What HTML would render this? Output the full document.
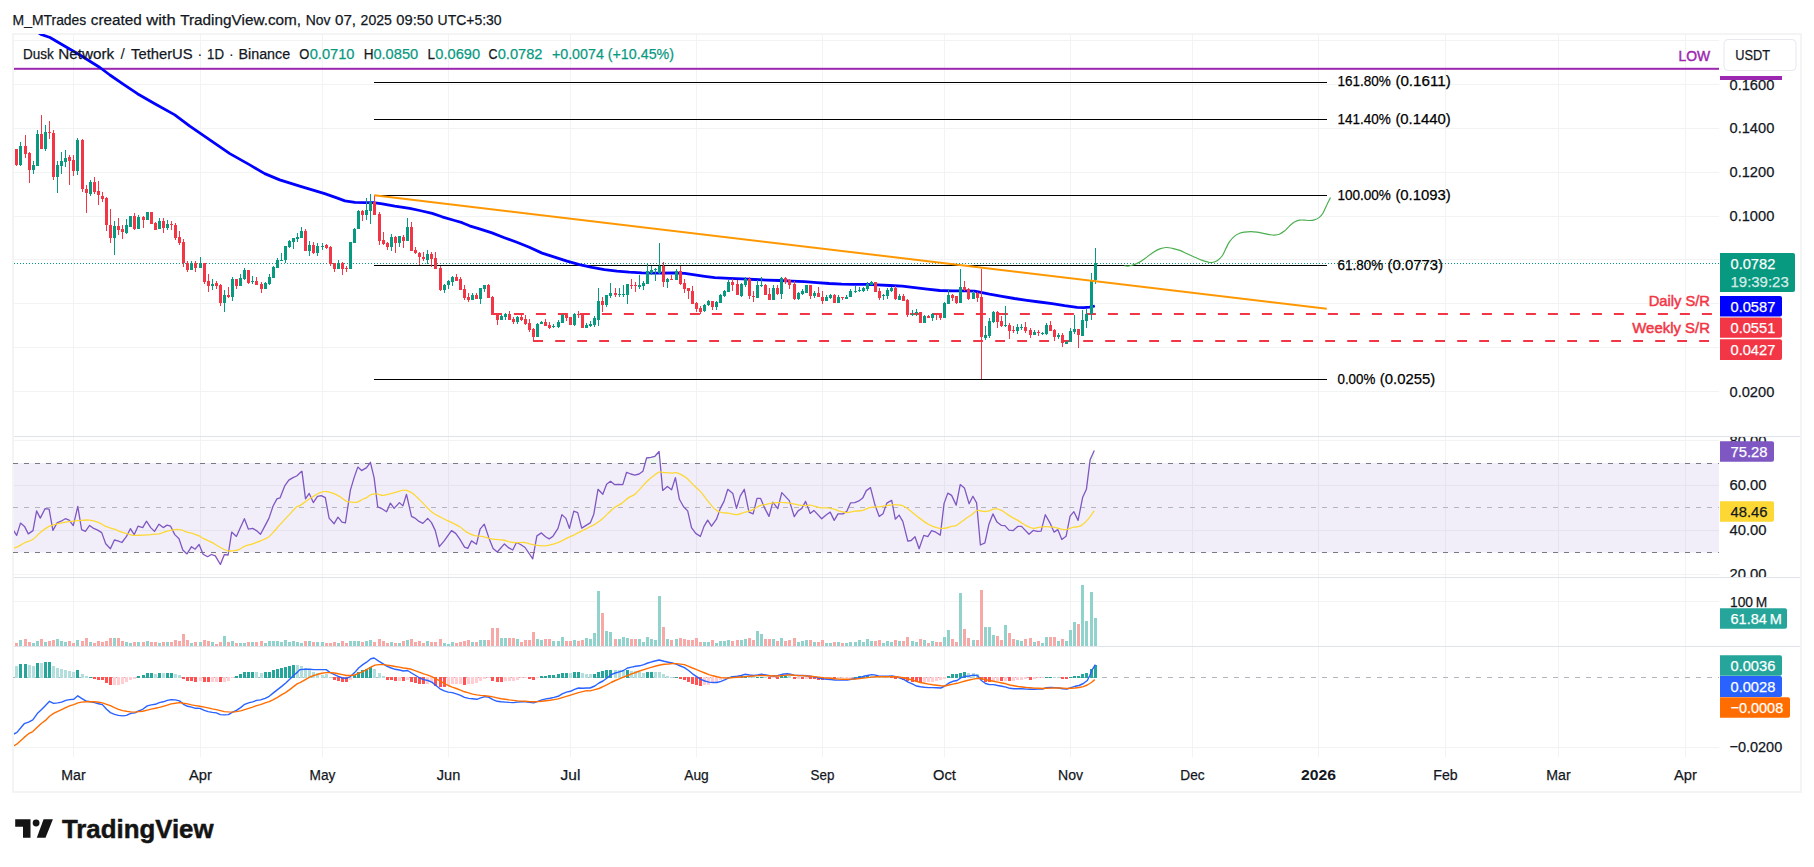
<!DOCTYPE html>
<html lang="en"><head><meta charset="utf-8"><title>DUSKUSDT chart</title>
<style>html,body{margin:0;padding:0;background:#fff}svg{display:block}</style></head>
<body>
<svg width="1814" height="867" viewBox="0 0 1814 867" font-family='"Liberation Sans", Arial, sans-serif' font-size="15.5">
<defs>
<clipPath id="cm"><rect x="14" y="34" width="1705" height="402"/></clipPath>
<clipPath id="cr"><rect x="14" y="437" width="1705" height="140"/></clipPath>
<clipPath id="cv"><rect x="14" y="578" width="1705" height="68"/></clipPath>
<clipPath id="cd"><rect x="14" y="647" width="1705" height="110"/></clipPath>
<clipPath id="ax1"><rect x="1719" y="437" width="82" height="140"/></clipPath>
</defs>
<rect width="1814" height="867" fill="#fff"/>
<path d="M73.5 34V757 M200.5 34V757 M322.5 34V757 M448.5 34V757 M570.5 34V757 M696.5 34V757 M822.5 34V757 M944.5 34V757 M1070.5 34V757 M1192.5 34V757 M1318.5 34V757 M1445.5 34V757 M1558.5 34V757 M1685.5 34V757 M14 40.5H1719 M14 84.5H1719 M14 128.5H1719 M14 172.5H1719 M14 216.5H1719 M14 259.5H1719 M14 303.5H1719 M14 347.5H1719 M14 391.5H1719 M14 440.5H1719 M14 485.5H1719 M14 530.5H1719 M14 574.5H1719 M14 601.5H1719 M14 747.5H1719" stroke="#2A2E39" stroke-opacity="0.058" stroke-width="1" fill="none" shape-rendering="crispEdges"/>
<path d="M13 436.5H1801M13 577.5H1801M13 646.5H1801" stroke="#E0E3EB" stroke-width="1" shape-rendering="crispEdges"/>
<rect x="13" y="34" width="1788" height="758" fill="none" stroke="#F4F4F4" stroke-width="2" shape-rendering="crispEdges"/>
<rect x="14" y="463" width="1705" height="89.5" fill="#7E57C2" fill-opacity="0.1"/>
<path d="M12.7 463.5H1719M12.7 552.5H1719" stroke="#787B86" stroke-width="1" stroke-dasharray="5 6" shape-rendering="crispEdges"/>
<path d="M12.7 507.5H1719" stroke="#B2B5BE" stroke-width="1" stroke-dasharray="5 6" shape-rendering="crispEdges"/>
<path d="M12.7 677.5H1719" stroke="#B2B5BE" stroke-width="1" stroke-dasharray="5 6" shape-rendering="crispEdges"/>
<g clip-path="url(#cm)">
<rect x="14" y="67.8" width="1705" height="2" fill="#9C27B0"/>
<path d="M374 82.5H1327 M374 119.5H1327 M374 195.5H1327 M374 265.5H1327 M374 379.5H1327" stroke="#000" stroke-width="1" shape-rendering="crispEdges"/>
<path d="M14 263.5H1719" stroke="#089981" stroke-width="1" stroke-dasharray="1 2" shape-rendering="crispEdges"/>
<path d="M491.9 313.9H1712" stroke="#F23645" stroke-width="2" stroke-dasharray="10 12"/>
<path d="M533.2 340.9H1709.5" stroke="#F23645" stroke-width="2" stroke-dasharray="9.8 12.2"/>
<polyline points="36.0,31.0 41.2,34.5 50.0,37.5 64.9,46.2 79.9,55.0 99.9,67.5 109.9,75.0 122.4,83.7 137.4,93.7 154.8,103.7 174.8,114.9 189.8,126.2 209.8,139.9 229.8,153.6 249.8,164.9 264.7,173.6 279.7,179.9 299.7,186.1 324.7,193.6 337.5,198.1 344.9,200.9 354.9,202.4 366.1,202.7 373.6,202.7 382.3,203.9 394.8,206.2 409.7,208.4 419.7,210.5 432.2,213.4 442.1,216.8 454.6,220.5 462.1,222.7 469.5,225.8 479.5,228.8 492.0,232.9 504.4,237.7 516.9,242.3 529.3,247.3 542.1,253.1 554.6,257.2 567.0,261.2 579.5,264.7 592.0,267.4 604.4,269.7 616.9,271.2 629.3,272.2 641.8,272.9 654.9,273.1 674.8,273.0 684.8,273.4 694.8,274.8 704.7,276.3 714.7,277.6 729.7,278.3 742.1,278.8 754.6,279.5 767.0,280.1 779.5,280.5 792.0,281.1 804.4,281.7 816.9,282.6 829.3,283.5 841.8,284.1 852.5,284.3 864.9,284.4 877.4,284.9 889.8,285.5 902.3,286.1 914.7,287.7 927.2,289.2 939.7,290.5 952.1,290.9 964.6,290.9 974.5,291.1 980.8,292.4 989.5,294.2 1002.0,296.3 1014.4,298.5 1026.9,300.3 1039.5,302.0 1052.1,303.7 1064.6,305.7 1077.0,307.4 1083.8,307.7 1089.6,307.1 1094.8,306.0" fill="none" stroke="#0000FF" stroke-width="2.8" stroke-linejoin="round"/>
<path d="M12 149h1V155h-1zM20 142h1V166h-1zM33 161h1V174h-1zM37 130h1V166h-1zM45 125h1V151h-1zM57 161h1V193h-1zM61 152h1V174h-1zM65 150h1V167h-1zM77 138h1V175h-1zM90 180h1V196h-1zM114 221h1V255h-1zM126 219h1V234h-1zM130 216h1V227h-1zM138 215h1V229h-1zM147 212h1V220h-1zM159 218h1V229h-1zM167 220h1V230h-1zM191 261h1V270h-1zM200 257h1V268h-1zM212 279h1V290h-1zM224 290h1V312h-1zM232 277h1V301h-1zM240 274h1V286h-1zM244 268h1V280h-1zM252 276h1V284h-1zM265 282h1V289h-1zM269 274h1V285h-1zM273 266h1V278h-1zM277 258h1V268h-1zM281 253h1V261h-1zM285 246h1V263h-1zM289 240h1V248h-1zM293 238h1V249h-1zM297 233h1V242h-1zM301 227h1V238h-1zM309 241h1V256h-1zM317 243h1V256h-1zM322 243h1V250h-1zM338 260h1V269h-1zM350 242h1V269h-1zM354 228h1V243h-1zM358 210h1V229h-1zM366 198h1V220h-1zM370 194h1V224h-1zM391 234h1V251h-1zM399 236h1V247h-1zM407 218h1V241h-1zM427 250h1V264h-1zM444 284h1V293h-1zM448 280h1V289h-1zM452 276h1V286h-1zM472 293h1V300h-1zM480 288h1V304h-1zM484 285h1V292h-1zM501 315h1V320h-1zM505 313h1V320h-1zM517 316h1V324h-1zM537 323h1V337h-1zM541 321h1V324h-1zM553 324h1V328h-1zM558 320h1V328h-1zM562 314h1V323h-1zM574 313h1V326h-1zM586 323h1V328h-1zM590 321h1V327h-1zM594 316h1V327h-1zM598 288h1V326h-1zM606 295h1V307h-1zM610 283h1V298h-1zM619 288h1V297h-1zM623 285h1V297h-1zM627 284h1V304h-1zM639 275h1V289h-1zM643 281h1V290h-1zM647 264h1V284h-1zM651 266h1V275h-1zM655 268h1V281h-1zM659 243h1V274h-1zM667 278h1V288h-1zM676 269h1V280h-1zM704 304h1V312h-1zM708 300h1V306h-1zM716 301h1V310h-1zM720 294h1V303h-1zM724 290h1V297h-1zM728 280h1V292h-1zM741 283h1V297h-1zM745 277h1V287h-1zM757 280h1V298h-1zM761 277h1V287h-1zM773 285h1V300h-1zM781 277h1V299h-1zM798 292h1V300h-1zM802 289h1V295h-1zM806 285h1V293h-1zM814 291h1V298h-1zM826 295h1V301h-1zM830 294h1V299h-1zM838 295h1V303h-1zM846 295h1V299h-1zM850 289h1V297h-1zM855 286h1V293h-1zM859 287h1V292h-1zM863 287h1V292h-1zM867 282h1V291h-1zM871 281h1V285h-1zM883 294h1V300h-1zM887 288h1V299h-1zM891 287h1V292h-1zM899 294h1V300h-1zM912 310h1V316h-1zM916 309h1V316h-1zM924 315h1V323h-1zM932 313h1V321h-1zM944 302h1V318h-1zM948 289h1V304h-1zM960 269h1V303h-1zM973 291h1V299h-1zM985 326h1V340h-1zM989 318h1V338h-1zM993 311h1V323h-1zM1005 306h1V327h-1zM1017 324h1V334h-1zM1021 324h1V330h-1zM1034 330h1V335h-1zM1042 332h1V335h-1zM1046 323h1V335h-1zM1058 333h1V339h-1zM1066 341h1V344h-1zM1070 328h1V342h-1zM1074 315h1V334h-1zM1082 310h1V336h-1zM1086 309h1V328h-1zM1091 273h1V320h-1zM1095 248h1V284h-1zM11 149h3V155h-3zM19 146h3V165h-3zM32 165h3V170h-3zM36 134h3V166h-3zM44 132h3V149h-3zM56 165h3V177h-3zM60 161h3V166h-3zM64 158h3V162h-3zM76 140h3V171h-3zM89 182h3V194h-3zM113 226h3V238h-3zM125 225h3V233h-3zM129 216h3V227h-3zM137 217h3V229h-3zM146 212h3V220h-3zM158 221h3V229h-3zM166 224h3V228h-3zM190 263h3V270h-3zM199 263h3V268h-3zM211 284h3V286h-3zM223 295h3V303h-3zM231 279h3V297h-3zM239 278h3V286h-3zM243 270h3V279h-3zM251 281h3V282h-3zM264 283h3V289h-3zM268 277h3V284h-3zM272 267h3V278h-3zM276 260h3V268h-3zM280 260h3V261h-3zM284 246h3V260h-3zM288 241h3V247h-3zM292 238h3V242h-3zM296 237h3V239h-3zM300 231h3V238h-3zM308 245h3V251h-3zM316 246h3V253h-3zM321 246h3V247h-3zM337 263h3V269h-3zM349 242h3V269h-3zM353 229h3V243h-3zM357 211h3V229h-3zM365 210h3V215h-3zM369 202h3V211h-3zM390 237h3V247h-3zM398 236h3V243h-3zM406 227h3V241h-3zM426 254h3V260h-3zM443 285h3V290h-3zM447 281h3V285h-3zM451 277h3V282h-3zM471 295h3V300h-3zM479 288h3V299h-3zM483 285h3V289h-3zM500 316h3V320h-3zM504 314h3V317h-3zM516 317h3V322h-3zM536 324h3V337h-3zM540 322h3V324h-3zM552 326h3V327h-3zM557 322h3V327h-3zM561 315h3V323h-3zM573 314h3V325h-3zM585 325h3V328h-3zM589 324h3V326h-3zM593 318h3V325h-3zM597 301h3V320h-3zM605 295h3V305h-3zM609 293h3V296h-3zM618 294h3V295h-3zM622 294h3V295h-3zM626 284h3V295h-3zM638 285h3V287h-3zM642 283h3V286h-3zM646 271h3V284h-3zM650 270h3V273h-3zM654 269h3V270h-3zM658 266h3V273h-3zM666 279h3V282h-3zM675 271h3V280h-3zM703 305h3V311h-3zM707 301h3V305h-3zM715 302h3V307h-3zM719 295h3V303h-3zM723 291h3V296h-3zM727 282h3V292h-3zM740 284h3V296h-3zM744 279h3V285h-3zM756 285h3V298h-3zM760 285h3V286h-3zM772 288h3V300h-3zM780 278h3V294h-3zM797 293h3V299h-3zM801 291h3V294h-3zM805 285h3V293h-3zM813 293h3V296h-3zM825 297h3V301h-3zM829 295h3V298h-3zM837 297h3V303h-3zM845 297h3V299h-3zM849 291h3V297h-3zM854 291h3V292h-3zM858 290h3V291h-3zM862 288h3V291h-3zM866 284h3V289h-3zM870 282h3V285h-3zM882 295h3V296h-3zM886 290h3V296h-3zM890 288h3V291h-3zM898 296h3V300h-3zM911 314h3V315h-3zM915 312h3V313h-3zM923 316h3V323h-3zM931 314h3V318h-3zM943 303h3V318h-3zM947 295h3V304h-3zM959 287h3V303h-3zM972 293h3V299h-3zM984 335h3V338h-3zM988 321h3V336h-3zM992 312h3V322h-3zM1004 325h3V326h-3zM1016 327h3V331h-3zM1020 327h3V328h-3zM1033 332h3V335h-3zM1041 333h3V334h-3zM1045 325h3V334h-3zM1057 335h3V337h-3zM1065 342h3V344h-3zM1069 331h3V342h-3zM1073 329h3V332h-3zM1081 320h3V336h-3zM1085 314h3V321h-3zM1090 281h3V314h-3zM1094 263h3V280h-3z" fill="#089981" shape-rendering="crispEdges"/>
<path d="M16 149h1V166h-1zM25 135h1V158h-1zM29 152h1V183h-1zM41 115h1V149h-1zM49 121h1V139h-1zM53 130h1V180h-1zM69 155h1V185h-1zM73 155h1V176h-1zM82 139h1V192h-1zM86 185h1V213h-1zM94 177h1V194h-1zM98 181h1V205h-1zM102 192h1V202h-1zM106 197h1V231h-1zM110 209h1V243h-1zM118 218h1V235h-1zM122 225h1V239h-1zM134 213h1V230h-1zM143 216h1V228h-1zM151 212h1V224h-1zM155 222h1V230h-1zM163 218h1V233h-1zM171 221h1V230h-1zM175 223h1V240h-1zM179 231h1V245h-1zM183 239h1V267h-1zM187 261h1V272h-1zM195 261h1V272h-1zM204 263h1V284h-1zM208 274h1V292h-1zM216 281h1V289h-1zM220 284h1V306h-1zM228 287h1V298h-1zM236 279h1V289h-1zM248 270h1V284h-1zM256 277h1V285h-1zM261 282h1V293h-1zM305 229h1V251h-1zM313 242h1V254h-1zM326 244h1V249h-1zM330 246h1V266h-1zM334 263h1V272h-1zM342 262h1V275h-1zM346 266h1V272h-1zM362 210h1V221h-1zM374 195h1V215h-1zM379 212h1V245h-1zM383 232h1V245h-1zM387 242h1V250h-1zM395 236h1V253h-1zM403 235h1V248h-1zM411 222h1V251h-1zM415 247h1V254h-1zM419 252h1V265h-1zM423 252h1V261h-1zM431 252h1V267h-1zM435 252h1V269h-1zM440 266h1V291h-1zM456 274h1V281h-1zM460 277h1V290h-1zM464 285h1V300h-1zM468 293h1V302h-1zM476 293h1V299h-1zM488 284h1V298h-1zM492 296h1V315h-1zM497 313h1V325h-1zM509 311h1V320h-1zM513 317h1V324h-1zM521 315h1V321h-1zM525 315h1V325h-1zM529 319h1V332h-1zM533 328h1V342h-1zM545 319h1V326h-1zM549 322h1V329h-1zM566 313h1V321h-1zM570 317h1V325h-1zM578 311h1V318h-1zM582 313h1V328h-1zM602 297h1V312h-1zM615 288h1V297h-1zM631 279h1V289h-1zM635 282h1V292h-1zM663 262h1V287h-1zM671 275h1V280h-1zM680 266h1V285h-1zM684 279h1V293h-1zM688 288h1V299h-1zM692 286h1V304h-1zM696 302h1V312h-1zM700 306h1V314h-1zM712 301h1V310h-1zM732 279h1V291h-1zM737 280h1V295h-1zM749 277h1V299h-1zM753 291h1V302h-1zM765 284h1V295h-1zM769 288h1V300h-1zM777 285h1V295h-1zM785 277h1V284h-1zM789 279h1V289h-1zM794 281h1V300h-1zM810 285h1V299h-1zM818 287h1V297h-1zM822 291h1V304h-1zM834 294h1V303h-1zM842 297h1V300h-1zM875 282h1V292h-1zM879 288h1V300h-1zM895 286h1V300h-1zM903 294h1V301h-1zM907 299h1V317h-1zM920 312h1V323h-1zM928 315h1V318h-1zM936 314h1V320h-1zM940 313h1V320h-1zM952 294h1V301h-1zM956 296h1V304h-1zM964 281h1V291h-1zM968 288h1V300h-1zM977 292h1V302h-1zM981 269h1V379h-1zM997 311h1V328h-1zM1001 316h1V327h-1zM1009 323h1V339h-1zM1013 326h1V333h-1zM1025 322h1V333h-1zM1030 328h1V338h-1zM1038 330h1V336h-1zM1050 321h1V331h-1zM1054 329h1V341h-1zM1062 333h1V347h-1zM1078 329h1V348h-1zM15 149h3V165h-3zM24 146h3V154h-3zM28 153h3V170h-3zM40 134h3V149h-3zM48 132h3V133h-3zM52 133h3V177h-3zM68 157h3V161h-3zM72 160h3V171h-3zM81 140h3V189h-3zM85 189h3V193h-3zM93 182h3V192h-3zM97 191h3V195h-3zM101 196h3V199h-3zM105 198h3V225h-3zM109 225h3V238h-3zM117 226h3V230h-3zM121 229h3V232h-3zM133 216h3V229h-3zM142 217h3V220h-3zM150 212h3V224h-3zM154 223h3V230h-3zM162 221h3V228h-3zM170 224h3V225h-3zM174 225h3V238h-3zM178 237h3V243h-3zM182 242h3V263h-3zM186 263h3V270h-3zM194 263h3V268h-3zM203 263h3V282h-3zM207 281h3V286h-3zM215 283h3V286h-3zM219 285h3V303h-3zM227 295h3V297h-3zM235 279h3V286h-3zM247 270h3V283h-3zM255 281h3V285h-3zM260 284h3V289h-3zM304 231h3V251h-3zM312 245h3V253h-3zM325 245h3V248h-3zM329 247h3V264h-3zM333 263h3V269h-3zM341 263h3V269h-3zM345 268h3V269h-3zM361 211h3V215h-3zM373 202h3V215h-3zM378 214h3V241h-3zM382 240h3V244h-3zM386 243h3V247h-3zM394 237h3V243h-3zM402 237h3V241h-3zM410 227h3V251h-3zM414 250h3V253h-3zM418 253h3V257h-3zM422 257h3V259h-3zM430 254h3V259h-3zM434 258h3V269h-3zM439 268h3V290h-3zM455 277h3V281h-3zM459 279h3V290h-3zM463 289h3V298h-3zM467 297h3V300h-3zM475 295h3V299h-3zM487 285h3V298h-3zM491 297h3V315h-3zM496 314h3V320h-3zM508 314h3V320h-3zM512 319h3V322h-3zM520 317h3V320h-3zM524 319h3V324h-3zM528 323h3V330h-3zM532 329h3V337h-3zM544 322h3V326h-3zM548 325h3V328h-3zM565 315h3V318h-3zM569 317h3V325h-3zM577 314h3V315h-3zM581 314h3V328h-3zM601 301h3V305h-3zM614 293h3V295h-3zM630 285h3V286h-3zM634 285h3V286h-3zM662 266h3V282h-3zM670 279h3V280h-3zM679 271h3V284h-3zM683 283h3V289h-3zM687 288h3V291h-3zM691 291h3V304h-3zM695 303h3V309h-3zM699 308h3V312h-3zM711 301h3V307h-3zM731 282h3V285h-3zM736 284h3V295h-3zM748 279h3V296h-3zM752 296h3V297h-3zM764 285h3V295h-3zM768 294h3V300h-3zM776 288h3V294h-3zM784 278h3V282h-3zM788 280h3V285h-3zM793 284h3V299h-3zM809 285h3V296h-3zM817 293h3V297h-3zM821 297h3V301h-3zM833 295h3V303h-3zM841 297h3V298h-3zM874 282h3V292h-3zM878 291h3V298h-3zM894 288h3V299h-3zM902 296h3V301h-3zM906 300h3V315h-3zM919 312h3V323h-3zM927 316h3V318h-3zM935 314h3V315h-3zM939 314h3V318h-3zM951 295h3V298h-3zM955 296h3V303h-3zM963 287h3V290h-3zM967 289h3V299h-3zM976 293h3V298h-3zM980 297h3V337h-3zM996 312h3V322h-3zM1000 321h3V326h-3zM1008 325h3V331h-3zM1012 330h3V331h-3zM1024 327h3V331h-3zM1029 330h3V335h-3zM1037 332h3V333h-3zM1049 325h3V331h-3zM1053 330h3V337h-3zM1061 335h3V343h-3zM1077 329h3V335h-3z" fill="#F23645" shape-rendering="crispEdges"/>
<path d="M374.2 195.3L1326.8 308.7" stroke="#FF9800" stroke-width="2" fill="none"/>
<path d="M1124.3 265.7C1125.0 265.8 1127.1 266.2 1128.7 266.0C1130.3 265.8 1132.0 265.3 1133.7 264.7C1135.4 264.1 1136.8 263.6 1138.7 262.6C1140.6 261.6 1142.6 260.1 1144.9 258.5C1147.2 256.9 1149.9 254.5 1152.4 252.9C1154.9 251.3 1157.5 249.8 1159.8 248.9C1162.1 248.0 1164.0 247.6 1166.1 247.5C1168.2 247.4 1170.0 247.8 1172.3 248.3C1174.6 248.8 1177.3 249.5 1179.8 250.4C1182.3 251.3 1184.7 252.7 1187.2 253.8C1189.7 254.9 1192.2 256.1 1194.7 257.2C1197.2 258.3 1199.9 259.6 1202.2 260.4C1204.5 261.2 1206.7 261.8 1208.4 262.2C1210.1 262.6 1210.8 262.8 1212.2 262.5C1213.7 262.2 1215.4 261.8 1217.1 260.7C1218.8 259.6 1220.6 258.0 1222.1 256.0C1223.6 254.0 1224.7 250.9 1225.9 248.5C1227.2 246.1 1228.1 243.8 1229.6 241.7C1231.0 239.6 1232.9 237.5 1234.6 236.1C1236.3 234.7 1237.9 234.0 1239.6 233.3C1241.2 232.6 1242.6 232.4 1244.5 232.1C1246.4 231.8 1248.7 231.6 1250.8 231.6C1252.9 231.6 1254.9 231.8 1257.0 232.1C1259.1 232.4 1261.1 232.9 1263.2 233.3C1265.3 233.7 1267.6 234.3 1269.5 234.6C1271.4 234.9 1272.8 235.2 1274.4 235.1C1276.1 235.0 1277.7 234.9 1279.4 234.2C1281.1 233.5 1282.7 232.4 1284.4 231.1C1286.1 229.8 1287.7 227.6 1289.4 226.1C1291.1 224.6 1292.7 223.1 1294.4 222.1C1296.1 221.1 1297.8 220.5 1299.4 220.2C1301.1 219.9 1302.7 220.0 1304.3 220.1C1305.9 220.2 1307.6 220.5 1309.3 220.5C1311.0 220.5 1312.6 220.4 1314.3 219.9C1316.0 219.4 1317.8 218.6 1319.3 217.4C1320.8 216.2 1321.8 215.1 1323.0 213.0C1324.2 210.9 1325.5 207.5 1326.8 204.9C1328.0 202.3 1329.9 198.7 1330.5 197.4" fill="none" stroke="#4CAF50" stroke-width="1.2"/>
</g>
<text x="1337.5" y="86.1" fill="#000" stroke="#000" stroke-width="0.25" textLength="53.4" lengthAdjust="spacingAndGlyphs">161.80%</text><text x="1395.39" y="86.1" fill="#000" stroke="#000" stroke-width="0.25" textLength="55.4" lengthAdjust="spacingAndGlyphs">(0.1611)</text>
<text x="1337.5" y="124.0" fill="#000" stroke="#000" stroke-width="0.25" textLength="53.4" lengthAdjust="spacingAndGlyphs">141.40%</text><text x="1395.39" y="124.0" fill="#000" stroke="#000" stroke-width="0.25" textLength="55.4" lengthAdjust="spacingAndGlyphs">(0.1440)</text>
<text x="1337.5" y="200.0" fill="#000" stroke="#000" stroke-width="0.25" textLength="53.4" lengthAdjust="spacingAndGlyphs">100.00%</text><text x="1395.39" y="200.0" fill="#000" stroke="#000" stroke-width="0.25" textLength="55.4" lengthAdjust="spacingAndGlyphs">(0.1093)</text>
<text x="1337.5" y="270.0" fill="#000" stroke="#000" stroke-width="0.25" textLength="45.6" lengthAdjust="spacingAndGlyphs">61.80%</text><text x="1387.59" y="270.0" fill="#000" stroke="#000" stroke-width="0.25" textLength="55.4" lengthAdjust="spacingAndGlyphs">(0.0773)</text>
<text x="1337.5" y="384.0" fill="#000" stroke="#000" stroke-width="0.25" textLength="37.8" lengthAdjust="spacingAndGlyphs">0.00%</text><text x="1379.79" y="384.0" fill="#000" stroke="#000" stroke-width="0.25" textLength="55.4" lengthAdjust="spacingAndGlyphs">(0.0255)</text>
<text x="1710" y="305.7" fill="#F23645" text-anchor="end" stroke="#F23645" stroke-width="0.5" textLength="61.3" lengthAdjust="spacingAndGlyphs">Daily S/R</text>
<text x="1710" y="332.8" fill="#F23645" text-anchor="end" stroke="#F23645" stroke-width="0.5" textLength="77.7" lengthAdjust="spacingAndGlyphs">Weekly S/R</text>
<text x="1710.1" y="60.5" fill="#9C27B0" text-anchor="end" stroke="#9C27B0" stroke-width="0.5" textLength="31.6" lengthAdjust="spacingAndGlyphs">LOW</text>
<g clip-path="url(#cr)">
<clipPath id="cob"><rect x="14" y="437" width="1705" height="26"/></clipPath><clipPath id="cos"><rect x="14" y="553" width="1705" height="24"/></clipPath>
<polygon clip-path="url(#cob)" points="13.3,530.1 16.7,535.4 20.5,523.1 24.5,526.4 28.3,533.9 33.0,530.6 36.6,510.9 40.3,518.1 45.0,508.7 49.1,509.2 52.9,530.4 57.1,522.9 61.1,521.2 65.3,518.7 69.1,520.1 73.3,525.6 77.8,506.4 81.6,529.6 85.4,531.4 89.6,525.4 93.7,528.4 97.7,530.1 101.7,532.6 105.7,543.7 110.4,548.7 114.4,540.0 117.9,540.9 121.9,542.5 126.5,536.4 130.4,528.7 134.2,534.7 138.0,526.2 142.7,527.6 146.5,521.2 150.7,527.6 154.5,531.4 159.0,524.2 163.2,527.6 167.1,525.1 170.6,526.2 174.8,534.6 179.0,538.7 182.8,550.0 187.0,553.9 191.5,546.7 195.1,549.2 199.1,544.5 203.1,554.2 207.6,556.7 211.4,554.5 215.3,555.9 220.4,564.5 224.3,554.7 228.1,555.0 231.7,532.1 236.4,536.4 240.2,528.1 244.4,518.7 248.4,529.2 252.6,528.4 256.4,530.6 260.5,534.2 264.7,526.4 268.9,518.4 273.0,506.3 276.9,498.9 280.0,497.9 284.7,485.9 288.8,480.1 293.0,477.6 296.7,476.0 301.7,471.3 302.0,471.3 305.5,498.9 309.2,493.4 313.3,502.6 317.5,496.3 321.3,495.6 325.3,497.6 329.1,518.1 334.1,523.7 338.0,517.2 342.0,522.2 345.4,522.9 350.4,490.1 354.1,477.6 357.8,467.1 361.6,470.6 366.6,467.6 370.4,462.3 374.1,477.6 377.7,506.8 381.9,508.7 386.6,511.7 390.4,503.1 394.1,508.4 399.4,502.6 402.9,505.9 406.5,494.3 411.5,516.4 414.9,518.1 419.0,521.4 422.9,523.4 427.7,518.4 431.5,522.6 435.2,530.4 439.3,546.7 444.0,541.2 451.5,530.6 455.7,533.4 459.8,539.2 464.5,547.2 467.8,548.4 471.5,540.9 476.5,544.2 480.1,529.2 484.3,524.2 488.9,537.9 493.1,548.4 497.3,552.0 504.4,543.9 508.9,547.9 512.8,550.0 516.4,542.5 520.6,544.5 525.1,547.5 532.7,558.9 536.9,535.9 541.4,532.9 545.5,536.7 549.2,538.9 553.0,536.2 558.0,528.4 561.9,514.6 565.9,518.4 569.4,528.4 573.8,511.2 577.7,512.6 581.7,528.1 590.5,522.6 593.8,514.2 598.0,489.3 602.8,494.3 606.6,484.3 610.5,481.3 614.5,484.6 618.3,484.3 622.8,484.6 626.6,472.3 630.8,474.0 634.9,475.1 639.1,474.0 642.9,471.3 646.6,458.0 650.8,457.3 654.9,456.3 659.1,451.5 662.7,490.4 667.4,486.4 671.6,489.8 675.4,477.6 679.4,499.3 683.6,506.8 687.7,510.9 691.5,527.6 695.7,533.4 700.4,536.4 704.0,526.4 707.7,520.1 711.5,526.2 716.5,519.2 720.3,508.4 724.0,501.4 727.8,489.3 732.8,493.4 736.5,508.4 740.3,495.9 744.3,489.3 749.0,512.2 753.1,513.9 757.0,498.4 760.6,498.4 764.8,508.4 769.0,516.4 772.8,502.1 777.8,508.7 781.8,492.6 789.3,500.6 794.3,516.7 798.1,510.9 801.8,508.4 805.6,501.4 810.2,513.4 813.9,510.4 821.7,518.7 826.4,514.7 830.2,512.1 834.2,520.4 838.0,513.9 843.0,513.9 846.7,511.4 850.5,502.9 854.7,502.6 858.9,500.9 862.7,498.1 866.3,490.6 870.5,487.6 875.0,505.1 879.2,516.4 883.0,513.7 886.8,503.1 891.7,500.4 895.3,519.2 899.1,515.1 902.8,521.4 907.8,541.2 911.1,540.5 915.0,536.7 919.1,548.7 923.8,535.4 927.8,536.7 931.6,530.6 935.8,532.2 940.3,535.1 944.1,503.4 947.8,493.1 951.6,495.4 956.2,505.1 960.2,484.6 964.4,487.9 969.1,503.8 972.9,496.3 976.6,502.9 980.4,545.0 984.9,542.9 989.0,523.9 992.9,513.9 997.0,522.1 1001.5,525.4 1004.9,525.6 1009.0,530.1 1013.2,530.6 1017.7,526.4 1021.5,526.4 1029.0,534.2 1033.2,530.4 1037.3,531.4 1041.1,531.2 1045.3,514.7 1049.8,522.6 1054.0,532.1 1057.8,529.6 1061.8,539.5 1066.1,536.2 1070.1,516.2 1073.9,511.7 1078.1,520.4 1082.6,497.6 1086.4,489.3 1090.1,459.8 1094.3,450.6 1094.3,463 13.3,463" fill="#4CAF50" fill-opacity="0.09"/>
<polygon clip-path="url(#cos)" points="13.3,530.1 16.7,535.4 20.5,523.1 24.5,526.4 28.3,533.9 33.0,530.6 36.6,510.9 40.3,518.1 45.0,508.7 49.1,509.2 52.9,530.4 57.1,522.9 61.1,521.2 65.3,518.7 69.1,520.1 73.3,525.6 77.8,506.4 81.6,529.6 85.4,531.4 89.6,525.4 93.7,528.4 97.7,530.1 101.7,532.6 105.7,543.7 110.4,548.7 114.4,540.0 117.9,540.9 121.9,542.5 126.5,536.4 130.4,528.7 134.2,534.7 138.0,526.2 142.7,527.6 146.5,521.2 150.7,527.6 154.5,531.4 159.0,524.2 163.2,527.6 167.1,525.1 170.6,526.2 174.8,534.6 179.0,538.7 182.8,550.0 187.0,553.9 191.5,546.7 195.1,549.2 199.1,544.5 203.1,554.2 207.6,556.7 211.4,554.5 215.3,555.9 220.4,564.5 224.3,554.7 228.1,555.0 231.7,532.1 236.4,536.4 240.2,528.1 244.4,518.7 248.4,529.2 252.6,528.4 256.4,530.6 260.5,534.2 264.7,526.4 268.9,518.4 273.0,506.3 276.9,498.9 280.0,497.9 284.7,485.9 288.8,480.1 293.0,477.6 296.7,476.0 301.7,471.3 302.0,471.3 305.5,498.9 309.2,493.4 313.3,502.6 317.5,496.3 321.3,495.6 325.3,497.6 329.1,518.1 334.1,523.7 338.0,517.2 342.0,522.2 345.4,522.9 350.4,490.1 354.1,477.6 357.8,467.1 361.6,470.6 366.6,467.6 370.4,462.3 374.1,477.6 377.7,506.8 381.9,508.7 386.6,511.7 390.4,503.1 394.1,508.4 399.4,502.6 402.9,505.9 406.5,494.3 411.5,516.4 414.9,518.1 419.0,521.4 422.9,523.4 427.7,518.4 431.5,522.6 435.2,530.4 439.3,546.7 444.0,541.2 451.5,530.6 455.7,533.4 459.8,539.2 464.5,547.2 467.8,548.4 471.5,540.9 476.5,544.2 480.1,529.2 484.3,524.2 488.9,537.9 493.1,548.4 497.3,552.0 504.4,543.9 508.9,547.9 512.8,550.0 516.4,542.5 520.6,544.5 525.1,547.5 532.7,558.9 536.9,535.9 541.4,532.9 545.5,536.7 549.2,538.9 553.0,536.2 558.0,528.4 561.9,514.6 565.9,518.4 569.4,528.4 573.8,511.2 577.7,512.6 581.7,528.1 590.5,522.6 593.8,514.2 598.0,489.3 602.8,494.3 606.6,484.3 610.5,481.3 614.5,484.6 618.3,484.3 622.8,484.6 626.6,472.3 630.8,474.0 634.9,475.1 639.1,474.0 642.9,471.3 646.6,458.0 650.8,457.3 654.9,456.3 659.1,451.5 662.7,490.4 667.4,486.4 671.6,489.8 675.4,477.6 679.4,499.3 683.6,506.8 687.7,510.9 691.5,527.6 695.7,533.4 700.4,536.4 704.0,526.4 707.7,520.1 711.5,526.2 716.5,519.2 720.3,508.4 724.0,501.4 727.8,489.3 732.8,493.4 736.5,508.4 740.3,495.9 744.3,489.3 749.0,512.2 753.1,513.9 757.0,498.4 760.6,498.4 764.8,508.4 769.0,516.4 772.8,502.1 777.8,508.7 781.8,492.6 789.3,500.6 794.3,516.7 798.1,510.9 801.8,508.4 805.6,501.4 810.2,513.4 813.9,510.4 821.7,518.7 826.4,514.7 830.2,512.1 834.2,520.4 838.0,513.9 843.0,513.9 846.7,511.4 850.5,502.9 854.7,502.6 858.9,500.9 862.7,498.1 866.3,490.6 870.5,487.6 875.0,505.1 879.2,516.4 883.0,513.7 886.8,503.1 891.7,500.4 895.3,519.2 899.1,515.1 902.8,521.4 907.8,541.2 911.1,540.5 915.0,536.7 919.1,548.7 923.8,535.4 927.8,536.7 931.6,530.6 935.8,532.2 940.3,535.1 944.1,503.4 947.8,493.1 951.6,495.4 956.2,505.1 960.2,484.6 964.4,487.9 969.1,503.8 972.9,496.3 976.6,502.9 980.4,545.0 984.9,542.9 989.0,523.9 992.9,513.9 997.0,522.1 1001.5,525.4 1004.9,525.6 1009.0,530.1 1013.2,530.6 1017.7,526.4 1021.5,526.4 1029.0,534.2 1033.2,530.4 1037.3,531.4 1041.1,531.2 1045.3,514.7 1049.8,522.6 1054.0,532.1 1057.8,529.6 1061.8,539.5 1066.1,536.2 1070.1,516.2 1073.9,511.7 1078.1,520.4 1082.6,497.6 1086.4,489.3 1090.1,459.8 1094.3,450.6 1094.3,553 13.3,553" fill="#FF5252" fill-opacity="0.08"/>
<polyline points="13.3,530.1 16.7,535.4 20.5,523.1 24.5,526.4 28.3,533.9 33.0,530.6 36.6,510.9 40.3,518.1 45.0,508.7 49.1,509.2 52.9,530.4 57.1,522.9 61.1,521.2 65.3,518.7 69.1,520.1 73.3,525.6 77.8,506.4 81.6,529.6 85.4,531.4 89.6,525.4 93.7,528.4 97.7,530.1 101.7,532.6 105.7,543.7 110.4,548.7 114.4,540.0 117.9,540.9 121.9,542.5 126.5,536.4 130.4,528.7 134.2,534.7 138.0,526.2 142.7,527.6 146.5,521.2 150.7,527.6 154.5,531.4 159.0,524.2 163.2,527.6 167.1,525.1 170.6,526.2 174.8,534.6 179.0,538.7 182.8,550.0 187.0,553.9 191.5,546.7 195.1,549.2 199.1,544.5 203.1,554.2 207.6,556.7 211.4,554.5 215.3,555.9 220.4,564.5 224.3,554.7 228.1,555.0 231.7,532.1 236.4,536.4 240.2,528.1 244.4,518.7 248.4,529.2 252.6,528.4 256.4,530.6 260.5,534.2 264.7,526.4 268.9,518.4 273.0,506.3 276.9,498.9 280.0,497.9 284.7,485.9 288.8,480.1 293.0,477.6 296.7,476.0 301.7,471.3 302.0,471.3 305.5,498.9 309.2,493.4 313.3,502.6 317.5,496.3 321.3,495.6 325.3,497.6 329.1,518.1 334.1,523.7 338.0,517.2 342.0,522.2 345.4,522.9 350.4,490.1 354.1,477.6 357.8,467.1 361.6,470.6 366.6,467.6 370.4,462.3 374.1,477.6 377.7,506.8 381.9,508.7 386.6,511.7 390.4,503.1 394.1,508.4 399.4,502.6 402.9,505.9 406.5,494.3 411.5,516.4 414.9,518.1 419.0,521.4 422.9,523.4 427.7,518.4 431.5,522.6 435.2,530.4 439.3,546.7 444.0,541.2 451.5,530.6 455.7,533.4 459.8,539.2 464.5,547.2 467.8,548.4 471.5,540.9 476.5,544.2 480.1,529.2 484.3,524.2 488.9,537.9 493.1,548.4 497.3,552.0 504.4,543.9 508.9,547.9 512.8,550.0 516.4,542.5 520.6,544.5 525.1,547.5 532.7,558.9 536.9,535.9 541.4,532.9 545.5,536.7 549.2,538.9 553.0,536.2 558.0,528.4 561.9,514.6 565.9,518.4 569.4,528.4 573.8,511.2 577.7,512.6 581.7,528.1 590.5,522.6 593.8,514.2 598.0,489.3 602.8,494.3 606.6,484.3 610.5,481.3 614.5,484.6 618.3,484.3 622.8,484.6 626.6,472.3 630.8,474.0 634.9,475.1 639.1,474.0 642.9,471.3 646.6,458.0 650.8,457.3 654.9,456.3 659.1,451.5 662.7,490.4 667.4,486.4 671.6,489.8 675.4,477.6 679.4,499.3 683.6,506.8 687.7,510.9 691.5,527.6 695.7,533.4 700.4,536.4 704.0,526.4 707.7,520.1 711.5,526.2 716.5,519.2 720.3,508.4 724.0,501.4 727.8,489.3 732.8,493.4 736.5,508.4 740.3,495.9 744.3,489.3 749.0,512.2 753.1,513.9 757.0,498.4 760.6,498.4 764.8,508.4 769.0,516.4 772.8,502.1 777.8,508.7 781.8,492.6 789.3,500.6 794.3,516.7 798.1,510.9 801.8,508.4 805.6,501.4 810.2,513.4 813.9,510.4 821.7,518.7 826.4,514.7 830.2,512.1 834.2,520.4 838.0,513.9 843.0,513.9 846.7,511.4 850.5,502.9 854.7,502.6 858.9,500.9 862.7,498.1 866.3,490.6 870.5,487.6 875.0,505.1 879.2,516.4 883.0,513.7 886.8,503.1 891.7,500.4 895.3,519.2 899.1,515.1 902.8,521.4 907.8,541.2 911.1,540.5 915.0,536.7 919.1,548.7 923.8,535.4 927.8,536.7 931.6,530.6 935.8,532.2 940.3,535.1 944.1,503.4 947.8,493.1 951.6,495.4 956.2,505.1 960.2,484.6 964.4,487.9 969.1,503.8 972.9,496.3 976.6,502.9 980.4,545.0 984.9,542.9 989.0,523.9 992.9,513.9 997.0,522.1 1001.5,525.4 1004.9,525.6 1009.0,530.1 1013.2,530.6 1017.7,526.4 1021.5,526.4 1029.0,534.2 1033.2,530.4 1037.3,531.4 1041.1,531.2 1045.3,514.7 1049.8,522.6 1054.0,532.1 1057.8,529.6 1061.8,539.5 1066.1,536.2 1070.1,516.2 1073.9,511.7 1078.1,520.4 1082.6,497.6 1086.4,489.3 1090.1,459.8 1094.3,450.6" fill="none" stroke="#7E57C2" stroke-width="1.3" stroke-linejoin="round"/>
<path d="M13.3 547.9C13.9 547.8 14.9 548.0 16.7 547.2C18.5 546.4 21.4 544.4 24.2 543.0C26.9 541.7 30.3 541.0 33.0 539.2C35.7 537.5 37.6 534.7 40.3 532.6C43.0 530.4 46.3 527.8 49.1 526.4C51.9 525.0 54.4 524.6 57.1 523.9C59.8 523.2 62.6 522.7 65.3 522.2C68.0 521.8 70.5 521.5 73.3 521.2C76.0 520.9 78.9 520.6 81.6 520.4C84.3 520.2 86.9 519.8 89.6 520.1C92.3 520.3 95.0 521.0 97.7 522.1C100.4 523.1 102.9 525.2 105.7 526.4C108.5 527.6 111.7 528.3 114.4 529.2C117.1 530.2 119.2 531.3 121.9 532.2C124.5 533.1 128.3 534.0 130.4 534.6C132.4 535.1 132.1 535.3 134.2 535.4C136.2 535.5 139.9 535.2 142.7 535.1C145.4 534.9 148.0 534.7 150.7 534.6C153.4 534.4 156.2 534.4 159.0 533.9C161.7 533.3 164.5 531.9 167.1 531.2C169.8 530.5 172.8 530.0 174.8 529.7C176.8 529.4 177.6 529.4 179.0 529.6C180.3 529.7 181.5 529.9 182.8 530.4C184.1 530.8 185.5 531.8 187.0 532.2C188.4 532.7 189.4 532.4 191.5 533.1C193.5 533.7 197.2 535.0 199.1 535.9C201.1 536.8 201.1 537.3 203.1 538.4C205.2 539.4 208.5 540.7 211.4 542.2C214.3 543.7 217.6 546.1 220.4 547.5C223.2 549.0 225.4 550.4 228.1 550.9C230.7 551.3 234.4 550.7 236.4 550.4C238.4 550.0 238.9 549.5 240.2 548.9C241.6 548.2 242.3 547.2 244.4 546.4C246.4 545.5 249.9 544.8 252.6 543.9C255.2 543.0 257.8 542.1 260.5 540.9C263.3 539.7 266.8 538.1 268.9 536.7C270.9 535.3 271.2 534.6 273.0 532.6C274.9 530.5 277.4 527.5 280.0 524.6C282.7 521.7 286.1 518.0 288.8 515.1C291.6 512.1 294.8 508.3 296.7 506.8C298.5 505.2 298.1 506.8 300.0 505.6C301.9 504.4 305.5 501.6 308.3 499.8C311.1 497.9 313.9 495.7 316.6 494.3C319.4 492.9 322.2 491.4 325.0 491.3C327.7 491.1 330.8 492.5 333.3 493.4C335.8 494.3 337.7 495.5 340.0 496.8C342.2 498.1 344.4 500.3 346.6 501.3C348.8 502.2 351.5 502.1 353.3 502.3C355.1 502.4 356.0 502.5 357.4 502.1C358.8 501.7 360.1 500.5 361.6 499.8C363.1 499.0 364.9 498.5 366.6 497.6C368.3 496.7 369.9 494.9 371.6 494.3C373.2 493.7 374.6 493.7 376.6 493.9C378.5 494.1 381.0 495.5 383.2 495.4C385.5 495.4 387.7 494.3 389.9 493.8C392.1 493.2 394.3 492.7 396.6 492.1C398.8 491.5 401.4 490.4 403.2 490.1C405.0 489.9 405.7 490.0 407.4 490.6C409.0 491.2 410.6 491.6 413.2 493.8C415.8 495.9 420.1 500.4 423.2 503.4C426.2 506.4 428.7 509.5 431.5 511.7C434.3 514.0 436.8 515.1 439.8 516.7C442.9 518.4 446.5 520.1 449.8 521.7C453.2 523.4 457.0 525.0 459.8 526.7C462.6 528.4 464.0 530.6 466.5 532.1C469.0 533.5 472.0 534.8 474.8 535.6C477.6 536.3 480.1 536.1 483.1 536.7C486.2 537.3 489.8 538.7 493.1 539.2C496.4 539.8 499.8 539.5 503.1 540.0C506.4 540.6 509.5 542.1 513.1 542.5C516.7 543.0 521.4 542.2 524.7 542.5C528.1 542.9 529.7 544.2 533.1 544.7C536.4 545.3 540.7 546.2 544.7 545.9C548.7 545.6 553.6 544.1 557.2 542.9C560.8 541.6 563.4 539.8 566.4 538.4C569.3 537.0 571.9 535.9 574.7 534.6C577.5 533.2 580.4 531.7 583.0 530.4C585.6 529.1 588.0 527.8 590.0 526.7C592.0 525.7 592.9 525.6 595.0 524.2C597.1 522.9 599.4 521.4 602.5 518.7C605.5 516.1 610.1 511.0 613.3 508.4C616.5 505.9 619.1 505.2 621.6 503.4C624.1 501.7 625.9 499.6 628.3 497.9C630.6 496.3 632.7 496.1 635.8 493.4C638.8 490.7 643.7 484.7 646.6 481.8C649.5 478.9 651.2 477.6 653.3 476.0C655.3 474.3 657.1 472.7 659.1 472.1C661.0 471.6 662.8 472.5 664.9 472.6C667.0 472.8 669.8 473.1 671.6 473.1C673.4 473.1 674.2 472.4 675.7 472.6C677.3 472.8 678.9 473.4 680.7 474.3C682.5 475.2 684.5 476.4 686.6 478.1C688.6 479.9 691.0 482.6 693.2 484.8C695.4 486.9 697.7 488.5 699.9 490.9C702.1 493.3 704.3 496.5 706.5 499.3C708.8 502.0 711.2 505.6 713.2 507.6C715.1 509.6 716.4 510.5 718.2 511.4C720.0 512.3 722.3 512.6 724.0 512.9C725.7 513.2 726.1 512.8 728.2 513.1C730.3 513.4 733.7 514.9 736.5 514.7C739.3 514.6 742.0 513.1 744.8 512.2C747.6 511.4 750.6 510.9 753.1 509.7C755.6 508.6 757.6 506.5 759.8 505.6C762.0 504.7 764.2 504.7 766.5 504.3C768.7 503.8 770.6 503.3 773.1 502.9C775.6 502.6 778.7 502.2 781.4 502.3C784.2 502.3 787.0 502.7 789.8 503.1C792.5 503.5 795.5 504.3 798.1 504.8C800.7 505.2 803.6 505.5 805.6 505.6C807.6 505.6 807.9 504.8 810.2 505.1C812.6 505.4 816.8 507.1 819.7 507.6C822.7 508.1 825.6 507.6 828.1 507.9C830.5 508.2 832.3 508.7 834.2 509.2C836.2 509.8 837.6 510.7 839.7 511.2C841.8 511.8 844.2 512.6 846.7 512.6C849.2 512.6 852.0 511.6 854.7 511.2C857.4 510.9 860.0 511.1 862.7 510.4C865.3 509.7 867.8 507.9 870.5 507.3C873.3 506.6 877.6 506.8 879.2 506.8C880.7 506.7 878.8 506.9 880.0 506.8C881.2 506.6 884.7 505.9 886.7 505.6C888.6 505.3 890.0 504.9 891.7 504.8C893.3 504.6 894.8 504.6 896.6 504.8C898.5 504.9 900.5 504.8 902.5 505.6C904.4 506.3 905.7 507.3 908.3 509.2C910.9 511.2 915.0 514.7 918.3 517.2C921.6 519.7 925.2 522.5 928.3 524.2C931.3 526.0 934.0 526.9 936.6 527.6C939.2 528.3 941.6 528.6 944.1 528.4C946.6 528.2 949.5 526.9 951.6 526.4C953.7 525.9 954.4 526.6 956.6 525.4C958.8 524.2 962.4 521.0 964.9 519.2C967.4 517.5 969.5 516.2 971.6 514.7C973.6 513.3 975.4 511.0 977.4 510.4C979.3 509.9 981.4 511.3 983.2 511.4C985.0 511.6 986.5 511.6 988.2 511.2C989.9 510.9 991.7 509.6 993.2 509.2C994.7 508.9 995.8 508.6 997.4 508.9C998.9 509.2 1000.3 509.7 1002.4 510.9C1004.4 512.1 1007.2 514.3 1009.8 515.9C1012.5 517.5 1015.4 518.9 1018.2 520.6C1020.9 522.2 1024.0 524.6 1026.5 525.9C1029.0 527.2 1030.9 528.2 1033.2 528.4C1035.4 528.6 1037.8 527.5 1039.8 527.2C1041.8 526.9 1042.9 526.7 1045.3 526.7C1047.7 526.7 1051.3 526.8 1054.0 527.2C1056.7 527.6 1059.4 528.8 1061.5 529.2C1063.5 529.6 1064.0 529.9 1066.1 529.6C1068.2 529.2 1071.9 527.7 1073.9 527.2C1075.9 526.8 1076.7 527.2 1078.1 526.7C1079.5 526.3 1080.9 525.8 1082.6 524.6C1084.3 523.3 1086.1 521.6 1088.1 519.2C1090.0 516.9 1093.2 512.0 1094.3 510.6" fill="none" stroke="#FDD835" stroke-width="1.3"/>
</g>
<g clip-path="url(#cv)">
<path d="M11 644h3V646h-3zM19 640h3V646h-3zM32 643h3V646h-3zM36 641h3V646h-3zM44 642h3V646h-3zM56 639h3V646h-3zM60 641h3V646h-3zM64 642h3V646h-3zM76 640h3V646h-3zM89 642h3V646h-3zM113 638h3V646h-3zM125 642h3V646h-3zM129 643h3V646h-3zM137 642h3V646h-3zM146 641h3V646h-3zM158 643h3V646h-3zM166 642h3V646h-3zM190 643h3V646h-3zM199 642h3V646h-3zM211 642h3V646h-3zM223 636h3V646h-3zM231 641h3V646h-3zM239 643h3V646h-3zM243 643h3V646h-3zM251 642h3V646h-3zM264 643h3V646h-3zM268 641h3V646h-3zM272 641h3V646h-3zM276 641h3V646h-3zM280 642h3V646h-3zM284 640h3V646h-3zM288 642h3V646h-3zM292 641h3V646h-3zM296 642h3V646h-3zM300 643h3V646h-3zM308 641h3V646h-3zM316 642h3V646h-3zM321 642h3V646h-3zM337 643h3V646h-3zM349 641h3V646h-3zM353 641h3V646h-3zM357 641h3V646h-3zM365 641h3V646h-3zM369 640h3V646h-3zM390 642h3V646h-3zM398 643h3V646h-3zM406 640h3V646h-3zM426 641h3V646h-3zM443 643h3V646h-3zM447 644h3V646h-3zM451 642h3V646h-3zM471 642h3V646h-3zM479 640h3V646h-3zM483 640h3V646h-3zM500 638h3V646h-3zM504 638h3V646h-3zM516 639h3V646h-3zM536 639h3V646h-3zM540 640h3V646h-3zM552 641h3V646h-3zM557 641h3V646h-3zM561 637h3V646h-3zM573 640h3V646h-3zM585 638h3V646h-3zM589 639h3V646h-3zM593 633h3V646h-3zM597 591h3V646h-3zM605 631h3V646h-3zM609 632h3V646h-3zM618 639h3V646h-3zM622 637h3V646h-3zM626 638h3V646h-3zM638 639h3V646h-3zM642 642h3V646h-3zM646 637h3V646h-3zM650 639h3V646h-3zM654 640h3V646h-3zM658 596h3V646h-3zM666 639h3V646h-3zM675 639h3V646h-3zM703 642h3V646h-3zM707 642h3V646h-3zM715 643h3V646h-3zM719 641h3V646h-3zM723 641h3V646h-3zM727 640h3V646h-3zM740 640h3V646h-3zM744 639h3V646h-3zM756 631h3V646h-3zM760 634h3V646h-3zM772 639h3V646h-3zM780 638h3V646h-3zM797 642h3V646h-3zM801 641h3V646h-3zM805 640h3V646h-3zM813 642h3V646h-3zM825 643h3V646h-3zM829 643h3V646h-3zM837 642h3V646h-3zM845 643h3V646h-3zM849 642h3V646h-3zM854 642h3V646h-3zM858 640h3V646h-3zM862 642h3V646h-3zM866 639h3V646h-3zM870 641h3V646h-3zM882 643h3V646h-3zM886 641h3V646h-3zM890 642h3V646h-3zM898 641h3V646h-3zM911 641h3V646h-3zM915 642h3V646h-3zM923 640h3V646h-3zM931 641h3V646h-3zM943 637h3V646h-3zM947 630h3V646h-3zM959 593h3V646h-3zM972 640h3V646h-3zM984 627h3V646h-3zM988 627h3V646h-3zM992 635h3V646h-3zM1004 625h3V646h-3zM1016 640h3V646h-3zM1020 641h3V646h-3zM1033 642h3V646h-3zM1041 643h3V646h-3zM1045 637h3V646h-3zM1057 641h3V646h-3zM1065 641h3V646h-3zM1069 630h3V646h-3zM1073 622h3V646h-3zM1081 585h3V646h-3zM1085 621h3V646h-3zM1090 592h3V646h-3zM1094 618h3V646h-3z" fill="#92D2CC" shape-rendering="crispEdges"/>
<path d="M15 643h3V646h-3zM24 639h3V646h-3zM28 642h3V646h-3zM40 639h3V646h-3zM48 641h3V646h-3zM52 640h3V646h-3zM68 641h3V646h-3zM72 643h3V646h-3zM81 641h3V646h-3zM85 638h3V646h-3zM93 643h3V646h-3zM97 641h3V646h-3zM101 642h3V646h-3zM105 641h3V646h-3zM109 638h3V646h-3zM117 638h3V646h-3zM121 641h3V646h-3zM133 642h3V646h-3zM142 642h3V646h-3zM150 642h3V646h-3zM154 642h3V646h-3zM162 642h3V646h-3zM170 642h3V646h-3zM174 640h3V646h-3zM178 641h3V646h-3zM182 634h3V646h-3zM186 640h3V646h-3zM194 642h3V646h-3zM203 640h3V646h-3zM207 641h3V646h-3zM215 644h3V646h-3zM219 642h3V646h-3zM227 642h3V646h-3zM235 643h3V646h-3zM247 642h3V646h-3zM255 642h3V646h-3zM260 641h3V646h-3zM304 641h3V646h-3zM312 642h3V646h-3zM325 643h3V646h-3zM329 643h3V646h-3zM333 642h3V646h-3zM341 641h3V646h-3zM345 643h3V646h-3zM361 642h3V646h-3zM373 642h3V646h-3zM378 639h3V646h-3zM382 641h3V646h-3zM386 643h3V646h-3zM394 643h3V646h-3zM402 641h3V646h-3zM410 639h3V646h-3zM414 642h3V646h-3zM418 641h3V646h-3zM422 643h3V646h-3zM430 642h3V646h-3zM434 642h3V646h-3zM439 639h3V646h-3zM455 643h3V646h-3zM459 642h3V646h-3zM463 641h3V646h-3zM467 640h3V646h-3zM475 642h3V646h-3zM487 640h3V646h-3zM491 628h3V646h-3zM496 628h3V646h-3zM508 638h3V646h-3zM512 638h3V646h-3zM520 642h3V646h-3zM524 640h3V646h-3zM528 640h3V646h-3zM532 632h3V646h-3zM544 639h3V646h-3zM548 639h3V646h-3zM565 641h3V646h-3zM569 641h3V646h-3zM577 641h3V646h-3zM581 640h3V646h-3zM601 613h3V646h-3zM614 639h3V646h-3zM630 639h3V646h-3zM634 639h3V646h-3zM662 627h3V646h-3zM670 640h3V646h-3zM679 638h3V646h-3zM683 639h3V646h-3zM687 640h3V646h-3zM691 640h3V646h-3zM695 638h3V646h-3zM699 642h3V646h-3zM711 640h3V646h-3zM731 641h3V646h-3zM736 640h3V646h-3zM748 638h3V646h-3zM752 640h3V646h-3zM764 639h3V646h-3zM768 639h3V646h-3zM776 641h3V646h-3zM784 641h3V646h-3zM788 640h3V646h-3zM793 638h3V646h-3zM809 640h3V646h-3zM817 642h3V646h-3zM821 640h3V646h-3zM833 642h3V646h-3zM841 643h3V646h-3zM874 641h3V646h-3zM878 640h3V646h-3zM894 640h3V646h-3zM902 641h3V646h-3zM906 637h3V646h-3zM919 639h3V646h-3zM927 643h3V646h-3zM935 642h3V646h-3zM939 642h3V646h-3zM951 639h3V646h-3zM955 642h3V646h-3zM963 629h3V646h-3zM967 638h3V646h-3zM976 640h3V646h-3zM980 590h3V646h-3zM996 636h3V646h-3zM1000 640h3V646h-3zM1008 633h3V646h-3zM1012 639h3V646h-3zM1024 639h3V646h-3zM1029 638h3V646h-3zM1037 641h3V646h-3zM1049 637h3V646h-3zM1053 637h3V646h-3zM1061 639h3V646h-3zM1077 624h3V646h-3z" fill="#F7A9A7" shape-rendering="crispEdges"/>
</g>
<g clip-path="url(#cd)">
<path d="M19 664h3V678h-3zM24 664h3V678h-3zM36 663h3V678h-3zM44 662h3V678h-3zM48 662h3V678h-3zM76 670h3V678h-3zM89 677h3V678h-3zM137 676h3V678h-3zM142 675h3V678h-3zM146 673h3V678h-3zM150 673h3V678h-3zM158 673h3V678h-3zM166 673h3V678h-3zM170 673h3V678h-3zM235 676h3V678h-3zM239 674h3V678h-3zM243 672h3V678h-3zM247 672h3V678h-3zM251 672h3V678h-3zM264 672h3V678h-3zM268 672h3V678h-3zM272 670h3V678h-3zM276 669h3V678h-3zM280 668h3V678h-3zM284 667h3V678h-3zM288 666h3V678h-3zM292 665h3V678h-3zM353 675h3V678h-3zM357 672h3V678h-3zM361 670h3V678h-3zM365 669h3V678h-3zM369 667h3V678h-3zM540 676h3V678h-3zM544 676h3V678h-3zM548 675h3V678h-3zM552 675h3V678h-3zM557 674h3V678h-3zM561 673h3V678h-3zM565 673h3V678h-3zM573 672h3V678h-3zM577 672h3V678h-3zM593 674h3V678h-3zM597 672h3V678h-3zM601 671h3V678h-3zM605 670h3V678h-3zM609 670h3V678h-3zM626 670h3V678h-3zM646 672h3V678h-3zM650 672h3V678h-3zM675 677h3V678h-3zM727 677h3V678h-3zM731 676h3V678h-3zM740 676h3V678h-3zM744 676h3V678h-3zM756 677h3V678h-3zM760 677h3V678h-3zM780 676h3V678h-3zM784 676h3V678h-3zM854 677h3V678h-3zM858 676h3V678h-3zM862 676h3V678h-3zM866 676h3V678h-3zM947 676h3V678h-3zM951 674h3V678h-3zM955 674h3V678h-3zM959 673h3V678h-3zM963 672h3V678h-3zM1045 677h3V678h-3zM1049 677h3V678h-3zM1069 677h3V678h-3zM1073 676h3V678h-3zM1077 676h3V678h-3zM1081 674h3V678h-3zM1085 673h3V678h-3zM1090 669h3V678h-3zM1094 665h3V678h-3z" fill="#26A69A" shape-rendering="crispEdges"/>
<path d="M11 667h3V678h-3zM15 666h3V678h-3zM28 665h3V678h-3zM32 666h3V678h-3zM40 663h3V678h-3zM52 666h3V678h-3zM56 668h3V678h-3zM60 669h3V678h-3zM64 670h3V678h-3zM68 671h3V678h-3zM72 672h3V678h-3zM81 674h3V678h-3zM85 676h3V678h-3zM154 674h3V678h-3zM162 673h3V678h-3zM174 674h3V678h-3zM178 675h3V678h-3zM255 672h3V678h-3zM260 673h3V678h-3zM296 665h3V678h-3zM300 666h3V678h-3zM304 668h3V678h-3zM308 670h3V678h-3zM312 672h3V678h-3zM316 673h3V678h-3zM321 675h3V678h-3zM325 674h3V678h-3zM329 677h3V678h-3zM373 669h3V678h-3zM378 673h3V678h-3zM382 676h3V678h-3zM569 673h3V678h-3zM581 673h3V678h-3zM585 674h3V678h-3zM589 674h3V678h-3zM614 670h3V678h-3zM618 670h3V678h-3zM622 671h3V678h-3zM630 671h3V678h-3zM634 671h3V678h-3zM638 672h3V678h-3zM642 673h3V678h-3zM654 672h3V678h-3zM658 672h3V678h-3zM662 674h3V678h-3zM666 676h3V678h-3zM670 677h3V678h-3zM736 677h3V678h-3zM748 677h3V678h-3zM752 677h3V678h-3zM764 677h3V678h-3zM788 676h3V678h-3zM870 676h3V678h-3zM874 677h3V678h-3zM878 677h3V678h-3zM882 677h3V678h-3zM886 677h3V678h-3zM967 673h3V678h-3zM972 673h3V678h-3zM976 674h3V678h-3zM1053 677h3V678h-3zM1057 677h3V678h-3z" fill="#B2DFDB" shape-rendering="crispEdges"/>
<path d="M93 677h3V679h-3zM97 677h3V680h-3zM101 677h3V680h-3zM105 677h3V683h-3zM109 677h3V685h-3zM182 677h3V679h-3zM186 677h3V681h-3zM190 677h3V681h-3zM194 677h3V682h-3zM203 677h3V682h-3zM207 677h3V682h-3zM219 677h3V682h-3zM333 677h3V680h-3zM337 677h3V681h-3zM341 677h3V682h-3zM345 677h3V682h-3zM386 677h3V680h-3zM390 677h3V680h-3zM394 677h3V681h-3zM402 677h3V681h-3zM410 677h3V682h-3zM414 677h3V683h-3zM418 677h3V684h-3zM422 677h3V684h-3zM434 677h3V686h-3zM439 677h3V687h-3zM443 677h3V687h-3zM463 677h3V685h-3zM491 677h3V681h-3zM496 677h3V682h-3zM500 677h3V682h-3zM528 677h3V679h-3zM532 677h3V680h-3zM679 677h3V679h-3zM683 677h3V680h-3zM687 677h3V682h-3zM691 677h3V684h-3zM695 677h3V685h-3zM699 677h3V686h-3zM768 677h3V679h-3zM776 677h3V679h-3zM793 677h3V679h-3zM801 677h3V679h-3zM809 677h3V679h-3zM813 677h3V679h-3zM817 677h3V680h-3zM821 677h3V680h-3zM833 677h3V679h-3zM890 677h3V678h-3zM894 677h3V679h-3zM902 677h3V680h-3zM906 677h3V681h-3zM911 677h3V682h-3zM915 677h3V682h-3zM919 677h3V683h-3zM980 677h3V680h-3zM984 677h3V682h-3zM988 677h3V682h-3zM1000 677h3V681h-3zM1008 677h3V681h-3zM1029 677h3V680h-3zM1061 677h3V679h-3zM1065 677h3V679h-3z" fill="#FF5252" shape-rendering="crispEdges"/>
<path d="M113 677h3V685h-3zM117 677h3V685h-3zM121 677h3V684h-3zM125 677h3V682h-3zM129 677h3V680h-3zM133 677h3V679h-3zM199 677h3V681h-3zM211 677h3V682h-3zM215 677h3V682h-3zM223 677h3V682h-3zM227 677h3V681h-3zM231 677h3V678h-3zM349 677h3V680h-3zM398 677h3V681h-3zM406 677h3V680h-3zM426 677h3V684h-3zM430 677h3V683h-3zM447 677h3V685h-3zM451 677h3V684h-3zM455 677h3V684h-3zM459 677h3V684h-3zM467 677h3V684h-3zM471 677h3V684h-3zM475 677h3V683h-3zM479 677h3V681h-3zM483 677h3V679h-3zM487 677h3V678h-3zM504 677h3V681h-3zM508 677h3V681h-3zM512 677h3V681h-3zM516 677h3V680h-3zM520 677h3V678h-3zM524 677h3V678h-3zM536 677h3V678h-3zM703 677h3V685h-3zM707 677h3V685h-3zM711 677h3V683h-3zM715 677h3V683h-3zM719 677h3V680h-3zM723 677h3V678h-3zM772 677h3V678h-3zM797 677h3V679h-3zM805 677h3V679h-3zM825 677h3V679h-3zM829 677h3V679h-3zM837 677h3V678h-3zM841 677h3V678h-3zM845 677h3V678h-3zM849 677h3V678h-3zM898 677h3V678h-3zM923 677h3V682h-3zM927 677h3V682h-3zM931 677h3V682h-3zM935 677h3V681h-3zM939 677h3V680h-3zM943 677h3V679h-3zM992 677h3V681h-3zM996 677h3V681h-3zM1004 677h3V681h-3zM1012 677h3V681h-3zM1016 677h3V680h-3zM1020 677h3V680h-3zM1024 677h3V679h-3zM1033 677h3V679h-3zM1037 677h3V678h-3zM1041 677h3V678h-3z" fill="#FFCDD2" shape-rendering="crispEdges"/>
<polyline points="13.3,734.2 16.7,732.6 24.2,723.7 28.6,722.1 32.8,719.9 37.5,713.3 41.6,709.6 45.5,705.4 49.5,701.3 53.6,703.4 57.8,702.9 61.6,702.1 65.8,700.4 69.6,699.6 73.8,699.3 77.8,695.8 81.6,698.3 86.6,701.3 90.7,701.8 94.6,702.6 98.6,703.8 102.4,704.6 106.6,709.3 110.4,712.6 114.5,714.3 118.5,715.4 122.7,715.9 126.5,715.4 130.7,713.4 134.9,712.9 138.7,710.9 142.7,709.3 147.3,705.9 151.2,704.9 155.3,704.3 159.3,702.6 163.2,701.8 167.3,700.4 171.1,699.6 175.3,699.9 179.5,700.9 183.5,704.3 187.6,706.3 191.5,707.1 195.6,708.3 199.8,708.4 204.3,710.4 208.1,711.6 212.3,712.4 216.4,712.9 220.3,714.6 224.4,714.9 228.4,714.6 232.6,712.1 236.4,710.4 240.6,707.6 244.7,704.3 248.6,702.9 252.6,701.8 256.7,700.4 260.5,699.9 265.2,698.3 269.2,696.3 273.4,692.9 277.5,689.6 281.4,686.6 285.5,683.3 289.7,679.3 293.5,675.5 297.5,672.1 300.0,669.6 305.8,669.3 309.7,669.3 313.7,669.6 317.8,669.6 322.0,669.6 326.1,669.6 330.3,672.6 334.5,674.6 338.3,676.3 342.5,678.0 346.6,678.3 350.4,676.6 354.6,672.6 358.6,668.0 362.8,664.6 366.6,662.2 370.8,658.8 374.1,658.0 379.1,661.3 383.2,663.8 387.1,666.3 391.2,668.0 395.2,669.3 399.4,670.0 403.4,671.0 407.5,670.5 411.5,673.0 415.7,675.5 419.7,678.0 423.7,679.6 427.9,680.5 431.8,682.1 436.0,685.5 440.0,688.8 444.2,690.9 448.2,692.1 452.3,692.6 456.3,693.8 460.5,695.4 464.5,697.4 468.6,698.4 472.6,698.8 476.8,699.3 480.8,697.9 485.0,696.6 488.9,697.4 492.9,699.6 497.1,701.3 501.1,701.8 505.3,702.1 509.3,702.4 513.4,702.6 517.4,702.1 521.6,701.8 525.6,701.8 529.7,702.4 533.7,702.9 537.9,701.3 541.9,699.9 546.0,698.9 550.0,698.3 554.0,697.4 558.2,696.3 562.2,693.8 566.4,692.1 570.4,691.3 574.5,689.3 578.5,688.0 582.7,688.3 586.7,688.0 590.0,688.0 594.8,686.0 599.0,683.0 603.0,681.0 607.1,678.0 611.1,674.6 615.3,673.0 619.3,671.8 623.5,670.5 627.5,668.0 631.6,667.1 635.6,666.3 639.6,665.8 643.8,664.6 647.8,663.0 651.9,661.8 655.9,660.8 659.1,660.0 664.1,661.3 668.2,662.2 672.2,663.0 676.2,664.1 680.4,666.0 684.4,667.6 688.6,670.5 692.5,673.8 696.7,676.6 700.7,679.3 704.9,681.0 708.9,682.1 712.9,682.5 717.0,682.5 721.0,681.3 725.2,679.6 729.2,677.6 733.2,676.6 737.3,676.3 741.3,675.5 744.8,674.3 749.5,675.0 753.6,675.5 757.6,675.0 761.5,674.3 765.8,675.0 769.8,675.8 774.0,676.0 778.1,675.5 782.1,674.3 787.3,673.8 790.3,674.3 794.3,675.1 798.4,675.5 802.4,675.5 806.4,675.8 810.6,676.3 814.7,677.1 818.7,678.0 822.7,678.8 826.9,679.3 830.9,679.6 835.0,680.0 839.0,680.1 843.0,680.1 847.2,680.0 851.4,679.3 855.4,678.5 859.4,677.5 863.5,676.3 867.5,675.5 871.7,674.6 875.7,675.1 879.8,676.3 887.8,676.3 892.0,676.0 896.0,676.6 900.0,678.0 904.1,679.6 908.1,682.1 912.3,683.8 916.3,686.0 920.5,686.8 924.4,687.3 928.6,687.6 932.6,687.6 936.6,687.8 940.8,688.0 944.8,686.0 948.9,683.0 952.9,681.3 957.1,680.5 961.1,677.6 965.2,676.3 969.2,676.0 973.2,675.1 977.4,675.5 981.4,680.5 985.5,683.5 989.5,684.6 993.7,684.6 997.7,685.5 1001.9,686.3 1005.9,687.1 1009.8,688.3 1014.0,688.8 1018.0,688.8 1022.2,688.8 1026.2,689.1 1030.3,689.3 1034.3,689.3 1038.5,689.1 1042.5,689.0 1046.6,687.6 1050.6,687.5 1054.8,687.6 1058.8,688.0 1062.8,688.8 1066.9,689.1 1070.9,687.6 1075.1,686.3 1079.1,685.5 1083.3,683.5 1087.3,680.5 1089.8,675.5 1092.3,669.6 1095.4,664.6" fill="none" stroke="#2962FF" stroke-width="1.4" stroke-linejoin="round"/>
<polyline points="13.3,746.2 16.7,744.2 24.2,737.4 28.6,733.7 32.8,731.6 37.5,727.1 41.6,723.2 45.5,720.4 49.5,716.3 53.6,713.4 57.8,711.3 61.6,709.6 65.8,707.6 69.6,705.9 73.8,704.6 77.8,702.9 81.6,702.1 86.6,701.8 90.7,701.6 94.6,701.8 98.6,702.3 102.4,702.9 106.6,704.3 110.4,705.6 114.5,707.6 118.5,709.3 122.7,710.6 126.5,711.3 130.7,711.9 134.9,712.1 138.7,711.6 142.7,711.3 147.3,710.1 151.2,709.1 155.3,708.3 159.3,707.4 163.2,706.3 167.3,705.1 171.1,703.9 175.3,703.3 179.5,702.6 183.5,703.3 187.6,703.9 191.5,704.9 195.6,705.6 199.8,706.3 204.3,707.1 208.1,707.9 212.3,708.9 216.4,709.6 220.3,710.6 224.4,711.6 228.4,711.9 232.6,712.1 236.4,711.6 240.6,710.9 244.7,709.6 248.6,708.3 252.6,707.1 256.7,705.6 260.5,704.6 265.2,702.9 269.2,701.6 273.4,699.6 277.5,697.4 281.4,694.9 285.5,692.6 289.7,689.6 293.5,686.6 297.5,683.6 300.0,682.6 305.8,679.3 309.7,677.1 313.7,675.5 317.8,674.3 322.0,673.3 326.1,672.6 330.3,672.6 334.5,673.0 338.3,673.8 342.5,674.6 346.6,675.5 350.4,675.5 354.6,675.0 358.6,673.3 362.8,671.6 366.6,669.6 370.8,667.1 374.9,665.1 379.1,664.6 383.2,664.6 387.1,665.1 391.2,665.8 395.2,666.5 399.4,667.1 403.4,668.0 407.5,668.5 411.5,669.3 415.7,670.8 419.7,672.3 423.7,673.8 427.9,675.1 431.8,676.6 436.0,678.8 440.0,681.0 444.2,683.3 448.2,685.5 452.3,687.1 456.3,688.5 460.5,690.1 464.5,691.8 468.6,692.9 472.6,694.1 476.8,694.9 480.8,695.4 485.0,695.8 488.9,696.3 492.9,696.9 497.1,697.9 501.1,698.8 505.3,699.3 509.3,699.9 513.4,700.4 517.4,700.9 521.6,701.1 525.6,701.3 529.7,701.6 533.7,701.8 537.9,701.6 541.9,701.3 546.0,700.8 550.0,700.3 554.0,699.6 558.2,698.9 562.2,697.6 566.4,696.3 570.4,695.1 574.5,693.8 578.5,692.6 582.7,691.6 586.7,690.6 590.0,690.9 594.8,689.6 599.0,688.5 603.0,686.6 607.1,684.6 611.1,682.5 615.3,680.5 619.3,678.8 623.5,677.1 627.5,675.5 631.6,673.8 635.6,672.5 639.6,671.0 643.8,669.6 647.8,668.3 651.9,667.1 655.9,666.0 660.1,665.0 664.1,664.3 668.2,664.0 672.2,663.6 676.2,663.6 680.4,664.1 684.4,664.6 688.6,666.3 692.5,668.0 696.7,669.6 700.7,671.3 704.9,673.0 708.9,674.6 712.9,675.8 717.0,676.8 721.0,677.6 725.2,678.0 729.2,678.0 733.2,677.6 737.3,677.3 741.3,677.0 745.5,676.6 749.5,676.3 753.6,676.0 757.6,675.6 761.5,675.5 765.8,675.6 769.8,675.8 774.0,676.0 778.1,676.0 782.1,675.6 787.3,675.1 790.3,675.0 794.3,675.3 798.4,675.5 802.4,675.6 806.4,676.0 810.6,676.3 814.7,676.6 818.7,677.1 822.7,677.6 826.9,678.0 830.9,678.3 835.0,678.8 839.0,679.1 843.0,679.3 847.2,679.3 851.4,679.1 855.4,679.0 859.4,678.6 863.5,678.1 867.5,677.6 871.7,677.1 875.7,676.8 879.8,676.6 887.8,676.8 892.0,676.6 896.0,676.8 900.0,677.3 904.1,678.0 908.1,678.8 912.3,680.0 916.3,681.3 920.5,682.5 924.4,683.3 928.6,684.1 932.6,684.8 936.6,685.3 940.8,685.8 944.8,686.0 948.9,685.0 952.9,684.1 957.1,683.3 961.1,682.1 965.2,681.0 969.2,680.0 973.2,679.1 977.4,678.3 981.4,678.8 985.5,679.6 989.5,680.5 993.7,681.3 997.7,682.1 1001.9,683.0 1005.9,683.8 1009.8,685.0 1014.0,685.8 1018.0,686.5 1022.2,687.0 1026.2,687.5 1030.3,687.8 1034.3,688.1 1038.5,688.3 1042.5,688.5 1046.6,688.3 1050.6,688.1 1054.8,688.0 1058.8,688.0 1062.8,688.1 1066.9,688.5 1070.9,688.3 1075.1,688.0 1079.1,687.5 1083.3,686.6 1087.3,685.0 1091.4,682.5 1094.7,679.6" fill="none" stroke="#FF6D00" stroke-width="1.4" stroke-linejoin="round"/>
</g>
<g><text x="1729.5" y="89.5" fill="#131722" stroke="#131722" stroke-width="0.25" textLength="44.8" lengthAdjust="spacingAndGlyphs">0.1600</text></g>
<g><text x="1729.5" y="132.6" fill="#131722" stroke="#131722" stroke-width="0.25" textLength="44.8" lengthAdjust="spacingAndGlyphs">0.1400</text></g>
<g><text x="1729.5" y="176.8" fill="#131722" stroke="#131722" stroke-width="0.25" textLength="44.8" lengthAdjust="spacingAndGlyphs">0.1200</text></g>
<g><text x="1729.5" y="220.7" fill="#131722" stroke="#131722" stroke-width="0.25" textLength="44.8" lengthAdjust="spacingAndGlyphs">0.1000</text></g>
<g><text x="1729.5" y="397.0" fill="#131722" stroke="#131722" stroke-width="0.25" textLength="44.8" lengthAdjust="spacingAndGlyphs">0.0200</text></g>
<g clip-path="url(#ax1)"><text x="1729.5" y="445.5" fill="#131722" stroke="#131722" stroke-width="0.25" textLength="37.0" lengthAdjust="spacingAndGlyphs">80.00</text></g>
<g clip-path="url(#ax1)"><text x="1729.5" y="490.4" fill="#131722" stroke="#131722" stroke-width="0.25" textLength="37.0" lengthAdjust="spacingAndGlyphs">60.00</text></g>
<g clip-path="url(#ax1)"><text x="1729.5" y="534.9" fill="#131722" stroke="#131722" stroke-width="0.25" textLength="37.0" lengthAdjust="spacingAndGlyphs">40.00</text></g>
<g clip-path="url(#ax1)"><text x="1729.5" y="579.4" fill="#131722" stroke="#131722" stroke-width="0.25" textLength="37.0" lengthAdjust="spacingAndGlyphs">20.00</text></g>
<text x="1730" y="606.7" fill="#131722" stroke="#131722" stroke-width="0.25" textLength="37.2" lengthAdjust="spacingAndGlyphs">100 M</text>
<g><text x="1729.5" y="752.3" fill="#131722" stroke="#131722" stroke-width="0.25" textLength="52.7" lengthAdjust="spacingAndGlyphs">−0.0200</text></g>
<rect x="1720" y="76" width="62" height="4" fill="#9C27B0"/>
<path d="M1720 253H1793a2 2 0 0 1 2 2V290a2 2 0 0 1 -2 2H1720z" fill="#089981"/>
<text x="1730.5" y="269.4" fill="#fff" fill-opacity="1" stroke-opacity="1" stroke="#fff" stroke-width="0.25" textLength="44.8" lengthAdjust="spacingAndGlyphs">0.0782</text>
<text x="1730.5" y="287.2" fill="#fff" fill-opacity="0.8" stroke-opacity="0.8" stroke="#fff" stroke-width="0.25" textLength="58.2" lengthAdjust="spacingAndGlyphs">19:39:23</text>
<path d="M1720 296H1780a2 2 0 0 1 2 2V314.6a2 2 0 0 1 -2 2H1720z" fill="#0000FF"/>
<text x="1730.5" y="312.1" fill="#fff" fill-opacity="1" stroke-opacity="1" stroke="#fff" stroke-width="0.25" textLength="44.8" lengthAdjust="spacingAndGlyphs">0.0587</text>
<path d="M1720 317.5H1780a2 2 0 0 1 2 2V335.8a2 2 0 0 1 -2 2H1720z" fill="#F23645"/>
<text x="1730.5" y="333.3" fill="#fff" fill-opacity="1" stroke-opacity="1" stroke="#fff" stroke-width="0.25" textLength="44.8" lengthAdjust="spacingAndGlyphs">0.0551</text>
<path d="M1720 339.3H1780a2 2 0 0 1 2 2V358a2 2 0 0 1 -2 2H1720z" fill="#F23645"/>
<text x="1730.5" y="355.4" fill="#fff" fill-opacity="1" stroke-opacity="1" stroke="#fff" stroke-width="0.25" textLength="44.8" lengthAdjust="spacingAndGlyphs">0.0427</text>
<path d="M1720 441.2H1772a2 2 0 0 1 2 2V459.8a2 2 0 0 1 -2 2H1720z" fill="#7E57C2"/>
<text x="1730.5" y="456.9" fill="#fff" fill-opacity="1" stroke-opacity="1" stroke="#fff" stroke-width="0.25" textLength="37.0" lengthAdjust="spacingAndGlyphs">75.28</text>
<path d="M1720 501.3H1772a2 2 0 0 1 2 2V519.8a2 2 0 0 1 -2 2H1720z" fill="#FDD835"/>
<text x="1730.5" y="517.1" fill="#131722" fill-opacity="1" stroke-opacity="1" stroke="#131722" stroke-width="0.25" textLength="37.0" lengthAdjust="spacingAndGlyphs">48.46</text>
<path d="M1720 608.2H1785a2 2 0 0 1 2 2V626.7a2 2 0 0 1 -2 2H1720z" fill="#26A69A"/>
<text x="1730.5" y="623.9" fill="#fff" fill-opacity="1" stroke-opacity="1" stroke="#fff" stroke-width="0.25" textLength="51.3" lengthAdjust="spacingAndGlyphs">61.84 M</text>
<path d="M1720 655.2H1780a2 2 0 0 1 2 2V673.8a2 2 0 0 1 -2 2H1720z" fill="#26A69A"/>
<text x="1730.5" y="671.0" fill="#fff" fill-opacity="1" stroke-opacity="1" stroke="#fff" stroke-width="0.25" textLength="44.8" lengthAdjust="spacingAndGlyphs">0.0036</text>
<path d="M1720 676.1H1780a2 2 0 0 1 2 2V694.9a2 2 0 0 1 -2 2H1720z" fill="#2962FF"/>
<text x="1730.5" y="691.9" fill="#fff" fill-opacity="1" stroke-opacity="1" stroke="#fff" stroke-width="0.25" textLength="44.8" lengthAdjust="spacingAndGlyphs">0.0028</text>
<path d="M1720 697.3H1788a2 2 0 0 1 2 2V715.8a2 2 0 0 1 -2 2H1720z" fill="#FF6D00"/>
<text x="1730.5" y="713.1" fill="#fff" fill-opacity="1" stroke-opacity="1" stroke="#fff" stroke-width="0.25" textLength="52.7" lengthAdjust="spacingAndGlyphs">−0.0008</text>
<rect x="1724" y="39.5" width="72" height="31" rx="4" fill="#fff" stroke="#E6E8EE" stroke-width="1"/>
<text x="1735.3" y="60" fill="#131722" stroke="#131722" stroke-width="0.25" textLength="34.8" lengthAdjust="spacingAndGlyphs">USDT</text>
<text x="73.5" y="780" fill="#131722" text-anchor="middle" stroke="#131722" stroke-width="0.25" textLength="24.4" lengthAdjust="spacingAndGlyphs">Mar</text>
<text x="200.5" y="780" fill="#131722" text-anchor="middle" stroke="#131722" stroke-width="0.25" textLength="23.0" lengthAdjust="spacingAndGlyphs">Apr</text>
<text x="322.5" y="780" fill="#131722" text-anchor="middle" stroke="#131722" stroke-width="0.25" textLength="25.9" lengthAdjust="spacingAndGlyphs">May</text>
<text x="448.5" y="780" fill="#131722" text-anchor="middle" stroke="#131722" stroke-width="0.25" textLength="23.5" lengthAdjust="spacingAndGlyphs">Jun</text>
<text x="570.5" y="780" fill="#131722" text-anchor="middle" stroke="#131722" stroke-width="0.25" textLength="19.8" lengthAdjust="spacingAndGlyphs">Jul</text>
<text x="696.5" y="780" fill="#131722" text-anchor="middle" stroke="#131722" stroke-width="0.25" textLength="24.6" lengthAdjust="spacingAndGlyphs">Aug</text>
<text x="822.5" y="780" fill="#131722" text-anchor="middle" stroke="#131722" stroke-width="0.25" textLength="23.8" lengthAdjust="spacingAndGlyphs">Sep</text>
<text x="944.5" y="780" fill="#131722" text-anchor="middle" stroke="#131722" stroke-width="0.25" textLength="22.9" lengthAdjust="spacingAndGlyphs">Oct</text>
<text x="1070.5" y="780" fill="#131722" text-anchor="middle" stroke="#131722" stroke-width="0.25" textLength="25.0" lengthAdjust="spacingAndGlyphs">Nov</text>
<text x="1192.5" y="780" fill="#131722" text-anchor="middle" stroke="#131722" stroke-width="0.25" textLength="24.3" lengthAdjust="spacingAndGlyphs">Dec</text>
<text x="1318.5" y="780" fill="#131722" text-anchor="middle" font-weight="bold" textLength="35.0" lengthAdjust="spacingAndGlyphs">2026</text>
<text x="1445.5" y="780" fill="#131722" text-anchor="middle" stroke="#131722" stroke-width="0.25" textLength="24.4" lengthAdjust="spacingAndGlyphs">Feb</text>
<text x="1558.5" y="780" fill="#131722" text-anchor="middle" stroke="#131722" stroke-width="0.25" textLength="24.4" lengthAdjust="spacingAndGlyphs">Mar</text>
<text x="1685.5" y="780" fill="#131722" text-anchor="middle" stroke="#131722" stroke-width="0.25" textLength="23.0" lengthAdjust="spacingAndGlyphs">Apr</text>
<text x="12.6" y="25" fill="#131722" stroke="#131722" stroke-width="0.25" textLength="73.7" lengthAdjust="spacingAndGlyphs">M_MTrades</text><text x="90.83" y="25" fill="#131722" stroke="#131722" stroke-width="0.25" textLength="51.0" lengthAdjust="spacingAndGlyphs">created</text><text x="146.28" y="25" fill="#131722" stroke="#131722" stroke-width="0.25" textLength="29.4" lengthAdjust="spacingAndGlyphs">with</text><text x="180.19" y="25" fill="#131722" stroke="#131722" stroke-width="0.25" textLength="120.9" lengthAdjust="spacingAndGlyphs">TradingView.com,</text><text x="305.63" y="25" fill="#131722" stroke="#131722" stroke-width="0.25" textLength="24.8" lengthAdjust="spacingAndGlyphs">Nov</text><text x="334.96" y="25" fill="#131722" stroke="#131722" stroke-width="0.25" textLength="21.1" lengthAdjust="spacingAndGlyphs">07,</text><text x="360.57" y="25" fill="#131722" stroke="#131722" stroke-width="0.25" textLength="31.3" lengthAdjust="spacingAndGlyphs">2025</text><text x="396.34" y="25" fill="#131722" stroke="#131722" stroke-width="0.25" textLength="36.8" lengthAdjust="spacingAndGlyphs">09:50</text><text x="437.59" y="25" fill="#131722" stroke="#131722" stroke-width="0.25" textLength="64.0" lengthAdjust="spacingAndGlyphs">UTC+5:30</text>
<text x="23.0" y="59.4" fill="#131722" stroke="#131722" stroke-width="0.25" textLength="30.8" lengthAdjust="spacingAndGlyphs">Dusk</text><text x="58.3" y="59.4" fill="#131722" stroke="#131722" stroke-width="0.25" textLength="55.9" lengthAdjust="spacingAndGlyphs">Network</text><text x="122.65" y="59.4" fill="#131722" text-anchor="middle">/</text><text x="131.04" y="59.4" fill="#131722" stroke="#131722" stroke-width="0.25" textLength="61.6" lengthAdjust="spacingAndGlyphs">TetherUS</text><text x="199.84" y="59.4" fill="#131722" text-anchor="middle">·</text><text x="207.06" y="59.4" fill="#131722" stroke="#131722" stroke-width="0.25" textLength="17.0" lengthAdjust="spacingAndGlyphs">1D</text><text x="231.24" y="59.4" fill="#131722" text-anchor="middle">·</text><text x="238.46" y="59.4" fill="#131722" stroke="#131722" stroke-width="0.25" textLength="51.7" lengthAdjust="spacingAndGlyphs">Binance</text>
<text x="299.3" y="59.4" fill="#131722" stroke="#131722" stroke-width="0.25" textLength="10.1" lengthAdjust="spacingAndGlyphs">O</text>
<text x="309.7" y="59.4" fill="#089981" stroke="#089981" stroke-width="0.25" textLength="44.8" lengthAdjust="spacingAndGlyphs">0.0710</text>
<text x="363.8" y="59.4" fill="#131722" stroke="#131722" stroke-width="0.25" textLength="9.8" lengthAdjust="spacingAndGlyphs">H</text>
<text x="373.4" y="59.4" fill="#089981" stroke="#089981" stroke-width="0.25" textLength="44.8" lengthAdjust="spacingAndGlyphs">0.0850</text>
<text x="427.6" y="59.4" fill="#131722" stroke="#131722" stroke-width="0.25" textLength="7.6" lengthAdjust="spacingAndGlyphs">L</text>
<text x="435.3" y="59.4" fill="#089981" stroke="#089981" stroke-width="0.25" textLength="44.8" lengthAdjust="spacingAndGlyphs">0.0690</text>
<text x="488.4" y="59.4" fill="#131722" stroke="#131722" stroke-width="0.25" textLength="9.0" lengthAdjust="spacingAndGlyphs">C</text>
<text x="497.7" y="59.4" fill="#089981" stroke="#089981" stroke-width="0.25" textLength="44.8" lengthAdjust="spacingAndGlyphs">0.0782</text>
<text x="551.9" y="59.4" fill="#089981" stroke="#089981" stroke-width="0.25" textLength="122.1" lengthAdjust="spacingAndGlyphs">+0.0074 (+10.45%)</text>
<g fill="#141414">
<path d="M15.2 819.3H30.5V837.7H23V826.8H15.2z"/>
<circle cx="36.1" cy="823" r="3.4"/>
<path d="M43.6 819.3H52.9L45.5 837.7H36.8z"/>
<text x="62" y="837.7" font-size="26.2" font-weight="bold" stroke="#141414" stroke-width="0.5" textLength="151.5" lengthAdjust="spacingAndGlyphs">TradingView</text>
</g>
</svg>
</body></html>
